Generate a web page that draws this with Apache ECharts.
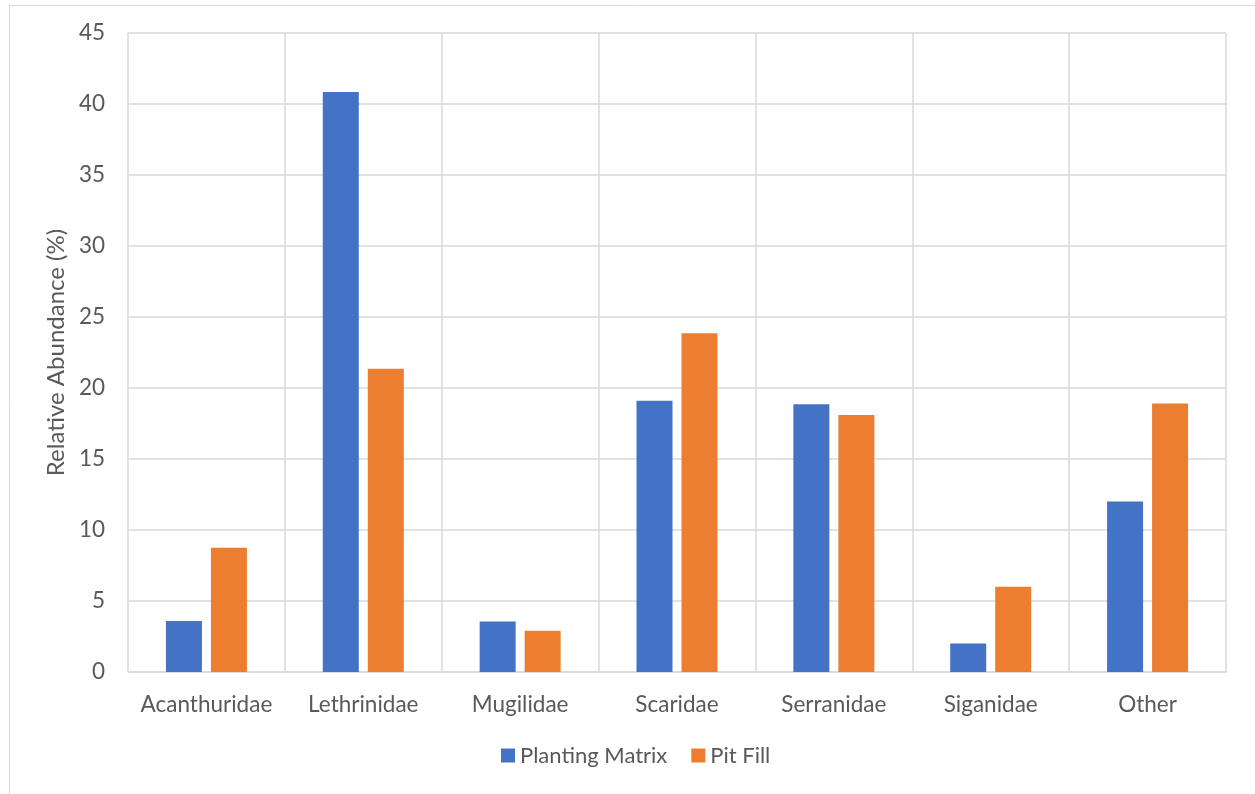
<!DOCTYPE html>
<html>
<head>
<meta charset="utf-8">
<script src="https://cdn.jsdelivr.net/npm/echarts@6/dist/echarts.min.js"></script>
<style>
  html, body { margin: 0; padding: 0; background: #fff; }
  #chart { width: 1255px; height: 794px; }
</style>
</head>
<body>
<div id="chart"></div>
<script>
// Fish family relative abundance by sample type
const families = ['Acanthuridae', 'Lethrinidae', 'Mugilidae', 'Scaridae', 'Serranidae', 'Siganidae', 'Other'];
const plantingMatrix = [3.6, 40.85, 3.55, 19.1, 18.85, 2.0, 12.0];
const pitFill = [8.75, 21.35, 2.9, 23.85, 18.1, 6.0, 18.9];
const yTicks = { min: 0, max: 45, interval: 5 };

const FONT = 'Lato, "Open Sans", sans-serif';
const SIZE = 22.5;
const TEXT = '#595959';
const GRID = '#d9d9d9';

const chart = echarts.init(document.getElementById('chart'), null, { renderer: 'canvas' });
chart.setOption({
  backgroundColor: '#ffffff',
  animation: false,
  graphic: [{
    type: 'rect',
    left: 7, top: 3,
    shape: { width: 1246, height: 800 },
    style: { fill: 'none', stroke: '#d9d9d9', lineWidth: 1 },
    silent: true
  }],
  grid: { left: 128, right: 29, top: 33, bottom: 122, containLabel: false },
  legend: {
    top: 743,
    left: 501,
    padding: 0,
    itemWidth: 14,
    itemHeight: 14,
    itemGap: 24,
    icon: 'rect',
    textStyle: { fontFamily: FONT, fontSize: 22, color: TEXT, lineHeight: 25 },
    data: ['Planting Matrix', 'Pit Fill']
  },
  xAxis: {
    type: 'category',
    data: families,
    boundaryGap: true,
    axisLine: { show: true, lineStyle: { color: GRID, width: 1.5 } },
    axisTick: { show: false },
    splitLine: { show: true, lineStyle: { color: GRID, width: 1.5 } },
    axisLabel: { fontFamily: FONT, fontSize: SIZE, color: TEXT, margin: 21, interval: 0 }
  },
  yAxis: {
    type: 'value',
    min: yTicks.min, max: yTicks.max, interval: yTicks.interval,
    name: 'Relative Abundance (%)',
    nameLocation: 'middle',
    nameGap: 52,
    nameTextStyle: { fontFamily: FONT, fontSize: 24, color: TEXT },
    axisLine: { show: false },
    axisTick: { show: false },
    splitLine: { show: true, lineStyle: { color: GRID, width: 1.5 } },
    axisLabel: { fontFamily: FONT, fontSize: SIZE, color: TEXT, margin: 23 }
  },
  series: [
    {
      name: 'Planting Matrix',
      type: 'bar',
      data: plantingMatrix,
      barWidth: 36,
      barGap: '25%',
      itemStyle: { color: '#4472c4' }
    },
    {
      name: 'Pit Fill',
      type: 'bar',
      data: pitFill,
      barWidth: 36,
      barGap: '25%',
      itemStyle: { color: '#ed7d31' }
    }
  ]
});
</script>
</body>
</html>
